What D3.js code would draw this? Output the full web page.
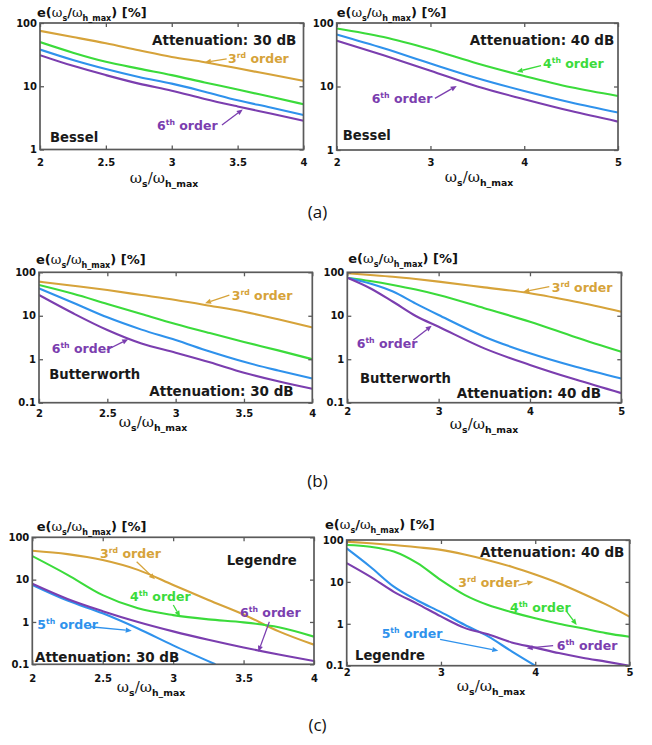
<!DOCTYPE html>
<html>
<head>
<meta charset="utf-8">
<script src="https://cdn.jsdelivr.net/npm/d3@7"></script>
<style>
  body { margin: 0; background: #fff; }
  svg { display: block; }
</style>
</head>
<body>
<svg id="fig" width="652" height="745"></svg>
<script>
// ---------- data: e(ωs/ωh_max) [%] versus ωs/ωh_max, per filter order ----------
const xBessel30 = [2, 2.25, 2.5, 2.75, 3, 3.25, 3.5, 3.75, 4];
const bessel30_3rd = [75, 60, 47.7, 37, 29, 24, 19.2, 15.3, 12.2];
const bessel30_4th = [50, 34, 24.4, 19, 15, 11.5, 8.9, 6.8, 5.2];
const bessel30_5th = [38, 26, 18.7, 14, 11, 8.2, 6.0, 4.6, 3.5];
const bessel30_6th = [31, 21, 15, 11, 8.5, 6.3, 4.8, 3.7, 2.85];

const xBessel40 = [2, 2.5, 3, 3.5, 4, 4.5, 5];
const bessel40_4th = [82, 60, 38.5, 23, 14.6, 9.7, 7.1];
const bessel40_5th = [66, 40, 23, 13.5, 8.5, 5.6, 3.9];
const bessel40_6th = [52.6, 31, 17.7, 10, 6.3, 4.1, 2.8];

const xButter30 = [2, 2.25, 2.5, 2.75, 3, 3.25, 3.5, 3.75, 4];
const butter30_3rd = [61, 49, 39, 30, 23, 17, 12.4, 8.3, 5.4];
const butter30_4th = [51, 32, 18.7, 11, 6.5, 4.0, 2.5, 1.6, 1.0];
const butter30_5th = [42.8, 20, 9.2, 4.8, 2.77, 1.5, 0.87, 0.55, 0.36];
const butter30_6th = [30, 11.4, 4.7, 2.3, 1.41, 0.85, 0.49, 0.31, 0.21];

const xButter40 = [2, 2.25, 2.5, 2.75, 3, 3.5, 4, 4.5, 5];
const butter40_3rd = [95, 87, 79, 70, 61, 45, 33, 21, 12.4];
const butter40_4th = [75, 63, 51, 40, 30, 14.9, 7.3, 3.2, 1.48];
const butter40_5th = [75, 55, 36, 19, 10.4, 3.3, 1.37, 0.67, 0.36];
const butter40_6th = [75, 43, 21, 9.9, 5.6, 1.78, 0.74, 0.34, 0.166];

const xLegendre30 = [2, 2.25, 2.5, 2.75, 3, 3.25, 3.5, 3.75, 4];
const legendre30_3rd = [48, 40, 29, 17, 7.5, 3.3, 1.5, 0.6, 0.29];
const legendre30_4th = [36, 13, 4.3, 2.1, 1.45, 1.15, 0.98, 0.75, 0.45];
const xLegendre30_5th = [2, 2.25, 2.5, 2.75, 3, 3.3];
const legendre30_5th = [7.5, 3.2, 1.6, 0.7, 0.28, 0.1];
const legendre30_6th = [8, 3.5, 1.8, 1.0, 0.6, 0.38, 0.25, 0.17, 0.12];

const xLegendre40 = [2, 2.25, 2.5, 2.75, 3, 3.25, 3.5, 3.75, 4, 4.25, 4.5, 4.75, 5];
const legendre40_3rd = [91, 84, 76, 67, 58, 45, 33, 23, 15, 9.3, 5.3, 2.9, 1.48];
const legendre40_4th = [76, 69, 53, 28, 11, 4.9, 2.8, 1.9, 1.35, 1.0, 0.78, 0.6, 0.49];
const xLegendre40_5th = [2, 2.25, 2.5, 2.75, 3, 3.25, 3.5, 3.75, 4];
const legendre40_5th = [63, 23, 7.7, 3.6, 1.9, 0.95, 0.5, 0.22, 0.1];
const legendre40_6th = [28, 13.3, 5.8, 3.0, 1.5, 0.8, 0.56, 0.36, 0.27, 0.2, 0.155, 0.125, 0.1];

// tick values
const xTicksTo4 = [2, 2.5, 3, 3.5, 4];
const xTicksTo5 = [2, 3, 4, 5];
const yTicks1to100 = [1, 10, 100];
const yTicks01to100 = [0.1, 1, 10, 100];

const panelLabels = ["(a)", "(b)", "(c)"];

// ---------- styling ----------
const ORDER_COLOR = { 3: "#D6A33A", 4: "#3BDB3B", 5: "#2F92EC", 6: "#7B3EAF" };
const ORDINAL = { 3: "rd", 4: "th", 5: "th", 6: "th" };
const SANS = "'DejaVu Sans', Verdana, sans-serif";
const SERIF = "'DejaVu Serif', 'Liberation Serif', serif";
const FRAME = "#5a5a5a";

// ---------- panel layout and annotations (annotation anchors are in data units) ----------
const panels = [
  { box: [40, 23, 303.5, 149.5], xDomain: [2, 4], yDomain: [1, 100], xTicks: xTicksTo4, yTicks: yTicks1to100,
    xPad: 9.5, title: [37, 17.3], xLabel: [164, 183],
    series: [[xBessel30, bessel30_3rd, 3], [xBessel30, bessel30_4th, 4], [xBessel30, bessel30_5th, 5], [xBessel30, bessel30_6th, 6]],
    notes: [
      { text: "Attenuation: 30 dB", at: [2.85, 44.9], size: 13.5 },
      { order: 3, at: [3.427, 23.3], arrow: [3.417, 27, 3.252, 23.9] },
      { order: 6, at: [2.888, 2.03], arrow: [3.381, 2.44, 3.539, 4.3] },
      { text: "Bessel", at: [2.076, 1.33], size: 13.2 } ] },
  { box: [336.7, 23, 618, 150], xDomain: [2, 5], yDomain: [1, 100], xTicks: xTicksTo5, yTicks: yTicks1to100,
    xPad: 9, title: [336.7, 17.3], xLabel: [479, 182],
    series: [[xBessel40, bessel40_4th, 4], [xBessel40, bessel40_5th, 5], [xBessel40, bessel40_6th, 6]],
    notes: [
      { text: "Attenuation: 40 dB", at: [3.42, 45], size: 13.5 },
      { order: 4, at: [4.2, 19.5], arrow: [4.179, 21.3, 3.92, 17.1] },
      { order: 6, at: [2.373, 5.5], arrow: [3.048, 6.5, 3.28, 10.2] },
      { text: "Bessel", at: [2.064, 1.43], size: 13.2 } ] },
  { box: [39, 272.3, 312.3, 402.7], xDomain: [2, 4], yDomain: [0.1, 100], xTicks: xTicksTo4, yTicks: yTicks01to100,
    xPad: 7.3, title: [36, 264.3], xLabel: [153, 426.5],
    series: [[xButter30, butter30_3rd, 3], [xButter30, butter30_4th, 4], [xButter30, butter30_5th, 5], [xButter30, butter30_6th, 6]],
    notes: [
      { order: 3, at: [3.41, 23.1], arrow: [3.393, 30, 3.215, 19.4] },
      { order: 6, at: [2.093, 1.37], arrow: [2.495, 1.63, 2.653, 2.88] },
      { text: "Butterworth", at: [2.075, 0.346], size: 13.2 },
      { text: "Attenuation: 30 dB", at: [2.807, 0.145], size: 13.5 } ] },
  { box: [347.3, 272.3, 621.3, 402.7], xDomain: [2, 5], yDomain: [0.1, 100], xTicks: xTicksTo5, yTicks: yTicks01to100,
    xPad: 5.5, title: [348.3, 263.3], xLabel: [484, 429],
    series: [[xButter40, butter40_3rd, 3], [xButter40, butter40_4th, 4], [xButter40, butter40_5th, 5], [xButter40, butter40_6th, 6]],
    notes: [
      { order: 3, at: [4.238, 35.8], arrow: [4.212, 46.6, 3.927, 35.8] },
      { order: 6, at: [2.103, 1.79], arrow: [2.723, 2.77, 2.924, 5.9] },
      { text: "Butterworth", at: [2.139, 0.28], size: 13.2 },
      { text: "Attenuation: 40 dB", at: [3.198, 0.126], size: 13.5 } ] },
  { box: [32.3, 537.3, 314, 664.3], xDomain: [2, 4], yDomain: [0.1, 100], xTicks: xTicksTo4, yTicks: yTicks01to100,
    xPad: 10.5, title: [36.7, 531], xLabel: [151, 692],
    series: [[xLegendre30, legendre30_3rd, 3], [xLegendre30, legendre30_4th, 4], [xLegendre30_5th, legendre30_5th, 5], [xLegendre30, legendre30_6th, 6]],
    notes: [
      { order: 3, at: [2.481, 31.9], arrow: [2.741, 26.5, 2.871, 10.2] },
      { text: "Legendre", at: [3.38, 22.2], size: 13.2 },
      { order: 4, at: [2.694, 3.18], arrow: [3.001, 2.51, 3.049, 1.33] },
      { order: 6, at: [3.475, 1.33], arrow: [3.683, 1.01, 3.605, 0.198] },
      { order: 5, at: [2.035, 0.68], arrow: [2.41, 0.77, 2.706, 0.62] },
      { text: "Attenuation: 30 dB", at: [2.019, 0.115], size: 13.5 } ] },
  { box: [346.7, 540, 629.5, 665.7], xDomain: [2, 5], yDomain: [0.1, 100], xTicks: xTicksTo5, yTicks: yTicks01to100,
    xPad: 3.5, title: [325, 529.3], xLabel: [491, 691],
    series: [[xLegendre40, legendre40_3rd, 3], [xLegendre40, legendre40_4th, 4], [xLegendre40_5th, legendre40_5th, 5], [xLegendre40, legendre40_6th, 6]],
    notes: [
      { text: "Attenuation: 40 dB", at: [3.414, 39.9], size: 13.5 },
      { order: 3, at: [3.184, 7.4], arrow: [3.82, 8.4, 3.979, 10.1] },
      { order: 4, at: [3.732, 1.95], arrow: [4.334, 1.95, 4.44, 0.94] },
      { order: 5, at: [2.371, 0.45], arrow: [2.99, 0.427, 3.608, 0.228] },
      { order: 6, at: [4.228, 0.237], arrow: [4.19, 0.3, 3.909, 0.26] },
      { text: "Legendre", at: [2.088, 0.137], size: 13.2 } ] }
];
const panelLabelPos = [[317.5, 217.5], [317.5, 487], [317.5, 730.5]];

// ---------- helpers ----------
function richText(sel, parts, size) {
  let shift = 0;
  parts.forEach(p => {
    const ts = sel.append("tspan").text(p.t);
    let target = 0, fs = size;
    if (p.sup) { target = -0.4 * size; fs = 0.62 * size; }
    if (p.sub) { target = 0.28 * size; fs = 0.62 * size; }
    ts.attr("font-size", fs).attr("dy", target - shift);
    shift = target;
    if (p.greek) ts.attr("font-family", SERIF).attr("font-weight", "normal");
  });
}

const titleParts = [{ t: "e(" }, { t: "ω", greek: true }, { t: "s", sub: true }, { t: "/" },
  { t: "ω", greek: true }, { t: "h_max", sub: true }, { t: ") [%]" }];
const xLabelParts = [{ t: "ω", greek: true }, { t: "s", sub: true }, { t: "/", greek: true },
  { t: "ω", greek: true }, { t: "h_max", sub: true }];

const svg = d3.select("#fig");
svg.append("rect").attr("width", 652).attr("height", 745).attr("fill", "#fff");

panels.forEach((p, i) => {
  const [L, T, R, B] = p.box;
  const w = R - L, h = B - T;
  const x = d3.scaleLinear().domain(p.xDomain).range([0, w]);
  const y = d3.scaleLog().domain(p.yDomain).range([h, 0]);
  const g = svg.append("g").attr("transform", `translate(${L},${T})`);

  const clipId = "clip" + i;
  g.append("clipPath").attr("id", clipId).append("rect").attr("width", w).attr("height", h);

  // series curves
  const line = d3.line().x(d => x(d[0])).y(d => y(d[1])).curve(d3.curveMonotoneX);
  const lines = g.append("g").attr("clip-path", `url(#${clipId})`);
  p.series.forEach(([xs, ys, order]) => {
    lines.append("path")
      .datum(xs.map((v, k) => [v, ys[k]]))
      .attr("d", line)
      .attr("fill", "none")
      .attr("stroke", ORDER_COLOR[order])
      .attr("stroke-width", 2.1)
      .attr("stroke-linejoin", "round");
  });

  // axes with inward ticks on all four sides
  const fmt = d3.format("~g");
  const styleAxis = a => {
    a.select(".domain").remove();
    a.selectAll(".tick line").attr("stroke", FRAME).attr("stroke-width", 1.3);
    a.selectAll("text").attr("font-family", SANS).attr("font-weight", "bold")
      .attr("font-size", 10).attr("fill", "#111");
  };
  g.append("g").attr("transform", `translate(0,${h})`)
    .call(d3.axisBottom(x).tickValues(p.xTicks).tickFormat(fmt).tickSize(-4).tickPadding(p.xPad))
    .call(styleAxis);
  g.append("g")
    .call(d3.axisTop(x).tickValues(p.xTicks).tickFormat(() => "").tickSize(-4))
    .call(styleAxis);
  g.append("g")
    .call(d3.axisLeft(y).tickValues(p.yTicks).tickFormat(fmt).tickSize(-4).tickPadding(3))
    .call(styleAxis);
  g.append("g").attr("transform", `translate(${w},0)`)
    .call(d3.axisRight(y).tickValues(p.yTicks).tickFormat(() => "").tickSize(-4))
    .call(styleAxis);

  g.append("rect").attr("width", w).attr("height", h)
    .attr("fill", "none").attr("stroke", FRAME).attr("stroke-width", 1.7);

  // annotations
  p.notes.forEach(n => {
    const color = n.order ? ORDER_COLOR[n.order] : "#1a1a1a";
    const size = n.size || 12.5;
    const t = g.append("text")
      .attr("x", x(n.at[0])).attr("y", y(n.at[1]))
      .attr("font-family", SANS).attr("font-weight", "bold")
      .attr("font-size", size).attr("fill", color);
    if (n.order) {
      richText(t, [{ t: String(n.order) }, { t: ORDINAL[n.order], sup: true }, { t: " order" }], size);
    } else {
      t.text(n.text);
    }
    if (n.arrow) {
      const [x1, y1, x2, y2] = n.arrow;
      const ax = x(x1), ay = y(y1), bx = x(x2), by = y(y2);
      const ang = Math.atan2(by - ay, bx - ax);
      const hl = 6, hw = 2.6;
      const baseX = bx - hl * Math.cos(ang), baseY = by - hl * Math.sin(ang);
      g.append("line").attr("x1", ax).attr("y1", ay).attr("x2", baseX).attr("y2", baseY)
        .attr("stroke", color).attr("stroke-width", 1.3);
      const px = -Math.sin(ang) * hw, py = Math.cos(ang) * hw;
      g.append("path")
        .attr("d", `M${bx},${by}L${baseX + px},${baseY + py}L${baseX - px},${baseY - py}Z`)
        .attr("fill", color);
    }
  });

  // y-axis title and x-axis label
  const title = svg.append("text").attr("x", p.title[0]).attr("y", p.title[1])
    .attr("font-family", SANS).attr("font-weight", "bold").attr("fill", "#111");
  richText(title, titleParts, 13);

  const xl = svg.append("text").attr("x", p.xLabel[0]).attr("y", p.xLabel[1])
    .attr("text-anchor", "middle")
    .attr("font-family", SANS).attr("font-weight", "bold").attr("fill", "#111");
  richText(xl, xLabelParts, 15);
});

// sub-figure captions
panelLabels.forEach((lab, i) => {
  svg.append("text").attr("x", panelLabelPos[i][0]).attr("y", panelLabelPos[i][1])
    .attr("text-anchor", "middle")
    .attr("font-family", "'Open Sans', 'Noto Sans', sans-serif")
    .attr("font-size", 17).attr("fill", "#111")
    .text(lab);
});
</script>
</body>
</html>
